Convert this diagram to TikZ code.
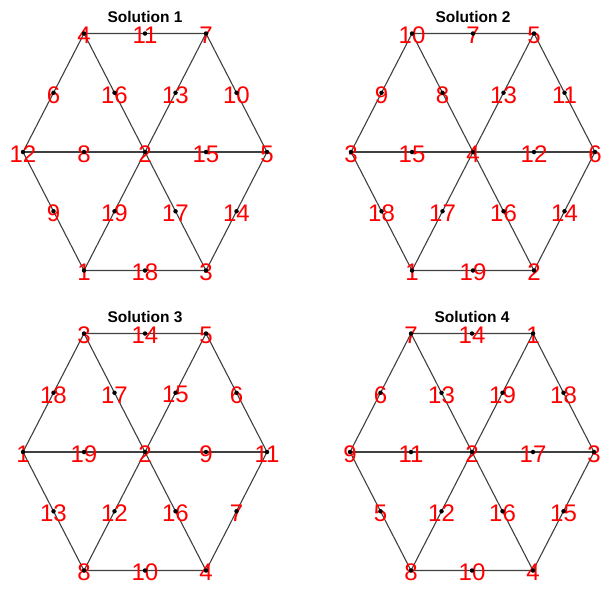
\documentclass[tikz,border=0pt]{standalone}
\usepackage{fontspec}
\setmainfont{Liberation Sans}

\begin{document}
\begin{tikzpicture}[x=1pt,y=-1pt,
  dot/.style={circle,fill=black,inner sep=0pt,minimum size=4.5pt},
  num/.style={text=red,font=\fontsize{24}{24}\selectfont,inner sep=0pt,yshift=-2pt},
  ttl/.style={font=\bfseries\fontsize{15.5}{16}\selectfont},
  edge/.style={draw=black!75,line width=1.1pt}]
\useasboundingbox (0,0) rectangle (616,592);

% points, lines and title of each hexagon
\foreach \s/\cx/\cy in {1/145/152, 2/473/152, 3/145/452, 4/472/452}{
  \foreach \n/\dx/\dy in {tl/-61/-118.5, t/0/-118.5, tr/61/-118.5,
      ul/-91.5/-59.25, uil/-30.5/-59.25, uir/30.5/-59.25, ur/91.5/-59.25,
      l/-122/0, il/-61/0, c/0/0, ir/61/0, r/122/0,
      ll/-91.5/59.25, lil/-30.5/59.25, lir/30.5/59.25, lr/91.5/59.25,
      bl/-61/118.5, b/0/118.5, br/61/118.5}
    \coordinate (s\s-\n) at (\cx+\dx,\cy+\dy);
  \draw[edge] (s\s-tl) -- (s\s-tr) -- (s\s-r) -- (s\s-br) -- (s\s-bl) -- (s\s-l) -- cycle;
  \draw[edge] (s\s-tl) -- (s\s-br);
  \draw[edge] (s\s-tr) -- (s\s-bl);
  \draw[edge] (s\s-l) -- (s\s-r);
  \node[ttl] (title\s) at (\cx,\cy-135) {Solution \s};
}

% numbers
\foreach \n/\t in {tl/4, t/11, tr/7, ul/6, uil/16, uir/13, ur/10,
    l/12, il/8, c/2, ir/15, r/5, ll/9, lil/19, lir/17, lr/14, bl/1, b/18, br/3}
  \node[num] (n1-\n) at (s1-\n) {\t};
\foreach \n/\t in {tl/10, t/7, tr/5, ul/9, uil/8, uir/13, ur/11,
    l/3, il/15, c/4, ir/12, r/6, ll/18, lil/17, lir/16, lr/14, bl/1, b/19, br/2}
  \node[num] (n2-\n) at (s2-\n) {\t};
\foreach \n/\t in {tl/3, t/14, tr/5, ul/18, uil/17, uir/15, ur/6,
    l/1, il/19, c/2, ir/9, r/11, ll/13, lil/12, lir/16, lr/7, bl/8, b/10, br/4}
  \node[num] (n3-\n) at (s3-\n) {\t};
\foreach \n/\t in {tl/7, t/14, tr/1, ul/6, uil/13, uir/19, ur/18,
    l/9, il/11, c/2, ir/17, r/3, ll/5, lil/12, lir/16, lr/15, bl/8, b/10, br/4}
  \node[num] (n4-\n) at (s4-\n) {\t};

% dots
\foreach \s in {1,2,3,4}
  \foreach \n in {tl,t,tr,ul,uil,uir,ur,l,il,c,ir,r,ll,lil,lir,lr,bl,b,br}
    \node[dot] (d\s-\n) at (s\s-\n) {};
\end{tikzpicture}
\end{document}
